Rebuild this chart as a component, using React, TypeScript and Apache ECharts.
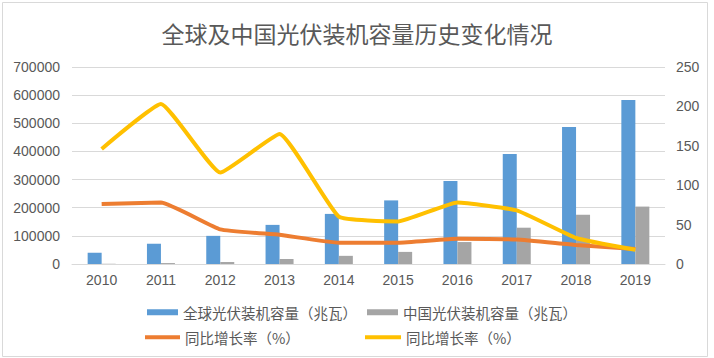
import React, { useEffect, useRef } from "react";
import * as echarts from "echarts";

const years = ["2010", "2011", "2012", "2013", "2014", "2015", "2016", "2017", "2018", "2019"];
const globalCapacity = [40000, 72000, 100000, 139000, 178000, 226000, 295000, 391000, 487000, 583000];
const chinaCapacity = [800, 3300, 7000, 17700, 29000, 43000, 78000, 129000, 175000, 204000];
const globalGrowth = [76, 78, 44, 37, 27, 27, 32, 31, 24, 19];
const chinaGrowth = [146, 203, 116, 165, 60, 54, 78, 68, 33, 18];

const FONT = "'Liberation Sans', 'Noto Sans CJK SC', sans-serif";
const TXT = "#595959";

export default function App() {
  const ref = useRef<HTMLDivElement>(null);
  useEffect(() => {
    if (!ref.current) return;
    const chart = echarts.init(ref.current, undefined, { renderer: "svg" });
    const legendText = { color: TXT, fontSize: 14.5, fontFamily: "'Noto Sans CJK SC', sans-serif" };
    chart.setOption({
      animation: false,
      backgroundColor: "#fff",
      title: {
        text: "全球及中国光伏装机容量历史变化情况",
        left: "center",
        top: 16,
        textStyle: { color: TXT, fontSize: 23, fontWeight: "normal", fontFamily: "'Noto Sans CJK SC', sans-serif" },
      },
      graphic: [
        {
          type: "rect",
          shape: { x: 2.5, y: 2.5, width: 705, height: 354 },
          style: { fill: "none", stroke: "#d9d9d9", lineWidth: 1 },
          silent: true,
        },
      ],
      legend: [
        {
          left: 142, top: 300, itemWidth: 31, itemHeight: 6, itemGap: 0, itemTextGap: 4,
          icon: "rect", data: ["全球光伏装机容量（兆瓦）"], textStyle: legendText,
        },
        {
          left: 362, top: 300, itemWidth: 31, itemHeight: 6, itemGap: 0, itemTextGap: 4,
          icon: "rect", data: ["中国光伏装机容量（兆瓦）"], textStyle: legendText,
        },
        {
          left: 140, top: 325, itemWidth: 35, itemHeight: 4, itemGap: 0, itemTextGap: 3,
          icon: "rect", data: ["全球同比增长率"], textStyle: legendText,
          formatter: () => "同比增长率（%）",
        },
        {
          left: 360, top: 325, itemWidth: 36, itemHeight: 4, itemGap: 0, itemTextGap: 3,
          icon: "rect", data: ["中国同比增长率"], textStyle: legendText,
          formatter: () => "同比增长率（%）",
        },
      ],
      grid: { left: 72, right: 49, top: 67, bottom: 94 },
      xAxis: {
        type: "category",
        data: years,
        axisTick: { show: false },
        axisLine: { lineStyle: { color: "#d9d9d9" } },
        axisLabel: { color: TXT, fontSize: 14, fontFamily: FONT, margin: 9 },
      },
      yAxis: [
        {
          type: "value",
          min: 0, max: 700000, interval: 100000,
          axisLine: { show: false }, axisTick: { show: false },
          splitLine: { lineStyle: { color: "#d9d9d9" } },
          axisLabel: { color: TXT, fontSize: 14, fontFamily: FONT, margin: 12, formatter: (v: number) => String(v) },
        },
        {
          type: "value",
          min: 0, max: 250, interval: 50,
          axisLine: { show: false }, axisTick: { show: false },
          splitLine: { show: false },
          axisLabel: { color: TXT, fontSize: 14, fontFamily: FONT, margin: 11 },
        },
      ],
      series: [
        {
          name: "全球光伏装机容量（兆瓦）", type: "bar", data: globalCapacity,
          barWidth: 14, barGap: "0%", itemStyle: { color: "#5B9BD5" },
        },
        {
          name: "中国光伏装机容量（兆瓦）", type: "bar", data: chinaCapacity,
          barWidth: 14, barGap: "0%", itemStyle: { color: "#A5A5A5" },
        },
        {
          name: "全球同比增长率", type: "line", yAxisIndex: 1, data: globalGrowth,
          smooth: 0.12, showSymbol: false, symbol: "none",
          lineStyle: { color: "#ED7D31", width: 4 }, itemStyle: { color: "#ED7D31" },
        },
        {
          name: "中国同比增长率", type: "line", yAxisIndex: 1, data: chinaGrowth,
          smooth: 0.12, showSymbol: false, symbol: "none",
          lineStyle: { color: "#FFC000", width: 4 }, itemStyle: { color: "#FFC000" },
        },
      ],
    });
    return () => chart.dispose();
  }, []);
  return <div ref={ref} style={{ position: "fixed", left: 0, top: 0, width: 714, height: 358 }} />;
}
